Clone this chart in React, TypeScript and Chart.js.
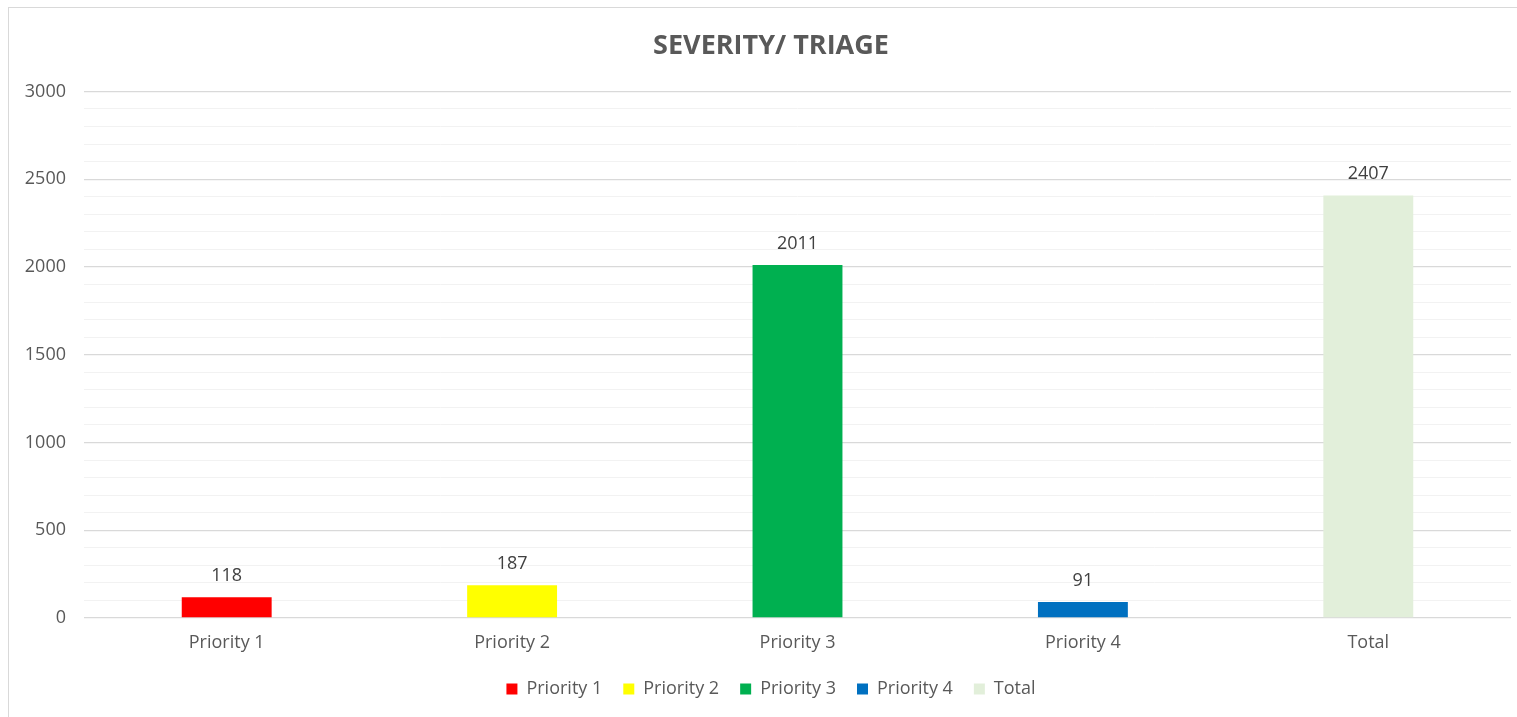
import React, { useEffect, useRef } from "react";
import { Chart, registerables } from "chart.js";

Chart.register(...registerables);

const titleText = "SEVERITY/ TRIAGE";
const categories = ["Priority 1", "Priority 2", "Priority 3", "Priority 4", "Total"];
const counts = [118, 187, 2011, 91, 2407];
const barColors = ["#FF0000", "#FFFF00", "#00B050", "#0070C0", "#E2EFDA"];
const yMax = 3000;
const yMinorStep = 100;
const yMajorStep = 500;

const FONT = "'Open Sans', 'DejaVu Sans', sans-serif";

const dataLabelPlugin = {
  id: "dataLabels",
  afterDatasetsDraw(chart: any) {
    const ctx = chart.ctx;
    const meta = chart.getDatasetMeta(0);
    ctx.save();
    ctx.font = `18px ${FONT}`;
    ctx.fillStyle = "#404040";
    ctx.textAlign = "center";
    ctx.textBaseline = "alphabetic";
    meta.data.forEach((el: any, i: number) => {
      ctx.fillText(String(counts[i]), el.x, el.y - 16);
    });
    ctx.restore();
  },
};

export default function App() {
  const ref = useRef<HTMLCanvasElement | null>(null);

  useEffect(() => {
    if (!ref.current) return;
    const chart = new Chart(ref.current, {
      type: "bar",
      data: {
        labels: categories,
        datasets: [
          {
            label: "Count",
            data: counts,
            backgroundColor: barColors,
            borderWidth: 0,
            categoryPercentage: 1,
            barPercentage: 0.315,
            yAxisID: "y",
          },
        ],
      },
      options: {
        animation: false,
        responsive: false,
        maintainAspectRatio: false,
        layout: { padding: { left: 0, right: 0, top: 0, bottom: 9 } },
        plugins: {
          title: {
            display: true,
            text: titleText,
            color: "#595959",
            font: { family: FONT, size: 27, weight: "bold" },
            padding: { top: 22, bottom: 29 },
          },
          legend: {
            display: true,
            position: "bottom",
            labels: {
              boxWidth: 11,
              boxHeight: 11,
              padding: 21,
              color: "#595959",
              font: { family: FONT, size: 18 },
              generateLabels: () =>
                categories.map((c, i) => ({
                  text: c,
                  fillStyle: barColors[i],
                  strokeStyle: barColors[i],
                  lineWidth: 0,
                  hidden: false,
                  index: i,
                  datasetIndex: 0,
                  fontColor: "#595959",
                })),
            },
            onClick: () => {},
          },
          tooltip: { enabled: false },
        },
        scales: {
          x: {
            grid: { display: false, drawTicks: false },
            border: { display: false },
            ticks: {
              color: "#595959",
              font: { family: FONT, size: 18 },
              padding: 14,
              maxRotation: 0,
            },
            afterFit: (scale: any) => {
              scale.height = 41;
            },
          },
          y: {
            min: 0,
            max: yMax,
            grid: {
              drawTicks: false,
              color: (c: any) =>
                c.tick && c.tick.value % yMajorStep === 0 ? "#d9d9d9" : "#f2f2f2",
              lineWidth: (c: any) =>
                c.tick && c.tick.value % yMajorStep === 0 ? 1.3 : 1,
            },
            border: { display: false },
            ticks: {
              stepSize: yMinorStep,
              autoSkip: false,
              color: "#595959",
              font: { family: FONT, size: 18 },
              padding: 18,
              callback: (v: any) => (Number(v) % yMajorStep === 0 ? String(v) : ""),
            },
            afterFit: (scale: any) => {
              scale.width = 75;
            },
          },
          yRight: {
            type: "linear",
            position: "right",
            min: 0,
            max: yMax,
            display: true,
            grid: { display: false, drawTicks: false },
            border: { display: false },
            ticks: { display: false },
            afterFit: (scale: any) => {
              scale.width = 22;
            },
          },
        },
      },
      plugins: [dataLabelPlugin],
    });
    return () => chart.destroy();
  }, []);

  return (
    <div
      style={{
        position: "absolute",
        top: 7,
        left: 8,
        width: 1509,
        height: 710,
        overflow: "hidden",
        background: "#fff",
      }}
    >
      <div
        style={{
          width: 1525,
          height: 710,
          borderTop: "1px solid #d9d9d9",
          borderLeft: "1px solid #d9d9d9",
          boxSizing: "border-box",
        }}
      >
        <canvas ref={ref} width={1524} height={709} style={{ display: "block", width: 1524, height: 709 }} />
      </div>
    </div>
  );
}
